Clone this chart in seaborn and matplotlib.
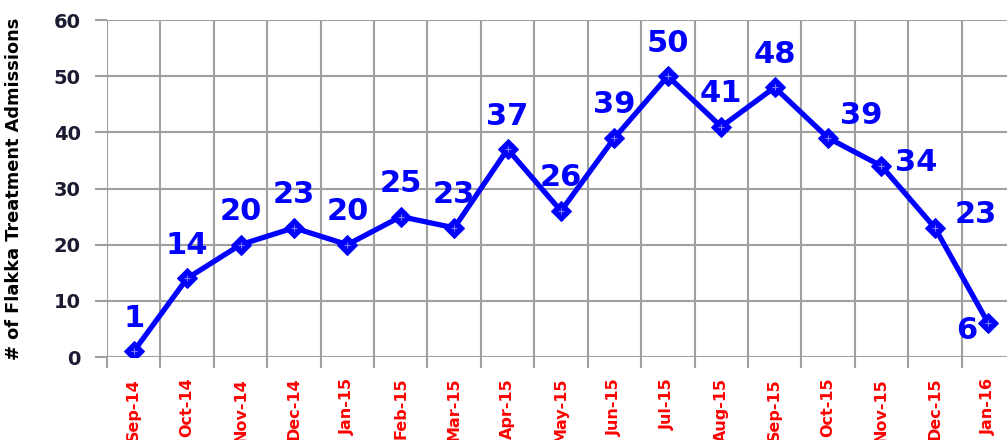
import matplotlib
matplotlib.use("Agg")
import matplotlib.pyplot as plt
import seaborn as sns
import pandas as pd
import numpy as np

months = ["Sep-14", "Oct-14", "Nov-14", "Dec-14", "Jan-15", "Feb-15", "Mar-15",
          "Apr-15", "May-15", "Jun-15", "Jul-15", "Aug-15", "Sep-15", "Oct-15",
          "Nov-15", "Dec-15", "Jan-16"]
admissions = [1, 14, 20, 23, 20, 25, 23, 37, 26, 39, 50, 41, 48, 39, 34, 23, 6]
y_ticks = [0, 10, 20, 30, 40, 50, 60]
title_text = "Monthly Flakka Treatment Admissions by Month, Broward County"
y_label = "# of Flakka Treatment Admissions"

sns.set_theme(style="white")
plt.rcParams['font.family'] = ['DejaVu Sans']

fig = plt.figure(figsize=(10.07, 4.40), dpi=100)
ax = fig.add_axes([107/1007, 83/440, 908/1007, 337/440])

df = pd.DataFrame({"month": months, "admissions": admissions})
df["pos"] = np.arange(len(months))

sns.lineplot(data=df, x="pos", y="admissions", ax=ax, color="#0000FF",
             linewidth=3.8, marker="D", markersize=10, markeredgecolor="#0000FF",
             markerfacecolor="#0000FF", sort=False, zorder=3)
ax.scatter(df["pos"], df["admissions"], marker="+", s=14, color="#7f7fff",
           linewidths=0.8, zorder=4)

grid_c = "#a0a0a0"
ax.set_xlim(-0.5, len(months) - 0.5)
ax.set_ylim(0, 60)
ax.set_yticks(y_ticks)
ax.set_xticks(df["pos"])
ax.set_xticklabels(months, rotation=90, color="red", fontweight="bold", fontsize=11.5)
ax.set_xticks(np.arange(-0.5, len(months), 1.0), minor=True)
ax.tick_params(axis="x", which="major", length=0, pad=15)
ax.tick_params(axis="x", which="minor", length=8, width=1.5, color=grid_c, direction="out", bottom=True)
ax.tick_params(axis="y", length=9, width=1.5, color=grid_c, direction="out", left=True,
               labelsize=14, labelcolor="#1a1a33", pad=10)
for lab in ax.get_yticklabels():
    lab.set_fontweight("bold")

ax.grid(True, axis="y", which="major", color=grid_c, linewidth=1.5)
ax.grid(True, axis="x", which="minor", color=grid_c, linewidth=1.5)
ax.grid(False, axis="x", which="major")
for s in ax.spines.values():
    s.set_visible(False)

ax.set_xlabel("")
ax.set_ylabel(y_label, fontsize=12.8, fontweight="bold", color="black")
ax.yaxis.set_label_coords(-0.093, 0.5)

offsets = {13: (33, 22), 14: (35, 4), 15: (41, 13), 16: (-22, -7)}
for i, v in enumerate(admissions):
    dx, dy = offsets.get(i, (0, 33))
    ax.annotate(str(v), (i, v), xytext=(dx, dy), textcoords="offset pixels",
                ha="center", va="center", fontsize=22, fontweight="bold",
                color="#0000FF", zorder=5)

fig.text(0.5, 1.0 + 5/440, title_text, ha="center", va="baseline",
         color="red", fontsize=18, fontweight="bold")

fig.savefig("out.png", dpi=100)
